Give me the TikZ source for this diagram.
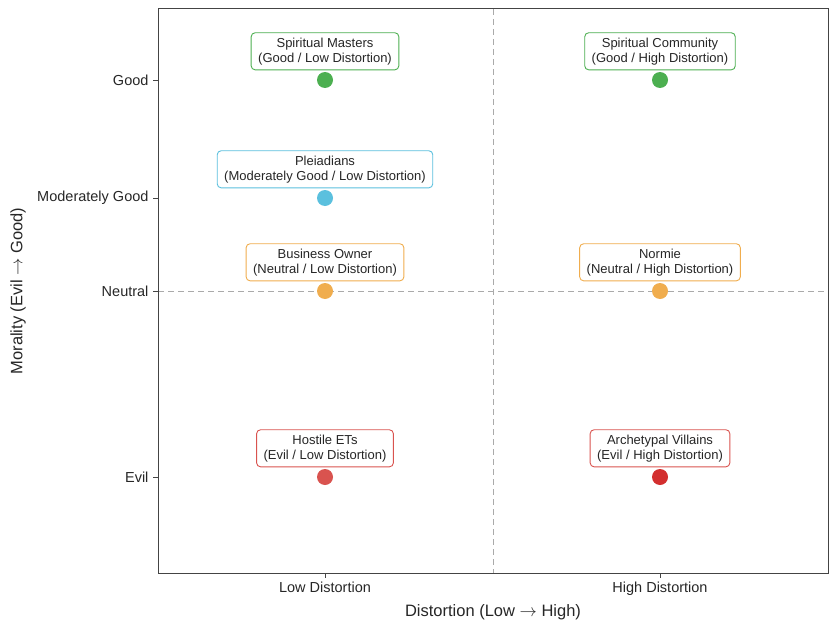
\documentclass[tikz,border=0pt]{standalone}
\usepackage{fontspec}
\setmainfont{Liberation Sans}
\usetikzlibrary{positioning}
\definecolor{goodGreen}{HTML}{4CAF50}
\definecolor{modBlue}{HTML}{5BC0DE}
\definecolor{neutOrange}{HTML}{F0AD4E}
\definecolor{evilRed}{HTML}{D9534F}
\definecolor{villainRed}{HTML}{D32F2F}
\definecolor{frameGray}{HTML}{444444}
\definecolor{gridGray}{HTML}{AAAAAA}
\tikzset{
  dot/.style      = {circle, fill=#1, minimum size=16pt, inner sep=0pt},
  tagBox/.style   = {rectangle, rounded corners=4pt, draw=#1, fill=white,
                     align=center, inner xsep=7pt, inner ysep=5pt, text=black!85,
                     font=\fontsize{13}{15}\selectfont, line width=0.9pt},
  midLine/.style  = {draw=gridGray, dashed, dash pattern=on 6pt off 4pt, line width=0.9pt},
  tickLbl/.style  = {font=\fontsize{14.5}{16}\selectfont, text=black!85},
  axisLbl/.style  = {font=\fontsize{16.5}{18}\selectfont, text=black!85},
}
\begin{document}
\begin{tikzpicture}[x=1pt,y=-1pt,node distance=1.5pt]
  \useasboundingbox (0,0) rectangle (835,626);
  % quadrant lines
  \draw[midLine] (493,9) -- (493,573);
  \draw[midLine] (158,291) -- (828,291);
  \draw[frameGray, line width=1pt] (158,9) rectangle (828,573);
  % ticks
  \foreach \y/\t in {80/Good,198/Moderately Good,291/Neutral,477/Evil}
    \draw[frameGray] (158,\y) -- (153,\y) node[left=1pt,tickLbl]{\t};
  \foreach \x/\t in {325/Low Distortion,660/High Distortion}
    \draw[frameGray] (\x,573) -- (\x,578) node[below=0pt,tickLbl]{\t};
  \node[axisLbl] (xlab) at (493,612) {Distortion (Low $\rightarrow$ High)};
  \node[axisLbl, rotate=90] (ylab) at (18,291) {Morality (Evil $\rightarrow$ Good)};
  % points
  \node[dot=goodGreen](sm) at (325,80){};
  \node[dot=modBlue](pl) at (325,198){};
  \node[dot=neutOrange](bo) at (325,291){};
  \node[dot=evilRed](he) at (325,477){};
  \node[dot=goodGreen](sc) at (660,80){};
  \node[dot=neutOrange](nm) at (660,291){};
  \node[dot=villainRed](av) at (660,477){};
  % labels
  \node[tagBox=goodGreen, above=of sm]{Spiritual Masters\\(Good / Low Distortion)};
  \node[tagBox=modBlue, above=of pl]{Pleiadians\\(Moderately Good / Low Distortion)};
  \node[tagBox=neutOrange, above=of bo]{Business Owner\\(Neutral / Low Distortion)};
  \node[tagBox=evilRed, above=of he]{Hostile ETs\\(Evil / Low Distortion)};
  \node[tagBox=goodGreen, above=of sc]{Spiritual Community\\(Good / High Distortion)};
  \node[tagBox=neutOrange, above=of nm]{Normie\\(Neutral / High Distortion)};
  \node[tagBox=evilRed, above=of av]{Archetypal Villains\\(Evil / High Distortion)};
\end{tikzpicture}
\end{document}
